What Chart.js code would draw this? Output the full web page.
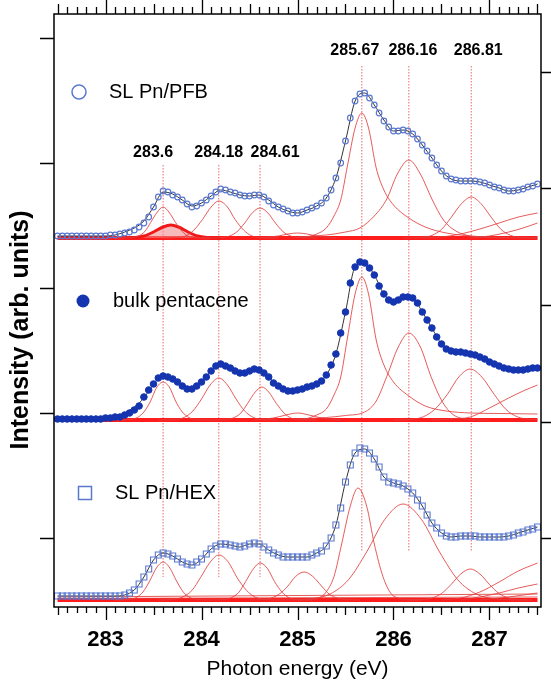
<!DOCTYPE html>
<html>
<head>
<meta charset="utf-8">
<script src="https://cdn.jsdelivr.net/npm/chart.js@4.4.1/dist/chart.umd.min.js"></script>
<style>
  body { margin: 0; background: #fff; }
  canvas { display: block; }
</style>
</head>
<body>
<canvas id="c" width="551" height="684"></canvas>
<script>
// photon energy grid of the measured points (eV)
const energy = [
  282.5,282.55,282.6,282.65,282.7,282.75,282.8,282.85,282.9,282.95,
  283,283.05,283.1,283.15,283.2,283.25,283.3,283.35,283.4,283.45,
  283.5,283.55,283.6,283.65,283.7,283.75,283.8,283.85,283.9,283.95,
  284,284.05,284.1,284.15,284.2,284.25,284.3,284.35,284.4,284.45,
  284.5,284.55,284.6,284.65,284.7,284.75,284.8,284.85,284.9,284.95,
  285,285.05,285.1,285.15,285.2,285.25,285.3,285.35,285.4,285.45,
  285.5,285.55,285.6,285.65,285.7,285.75,285.8,285.85,285.9,285.95,
  286,286.05,286.1,286.15,286.2,286.25,286.3,286.35,286.4,286.45,
  286.5,286.55,286.6,286.65,286.7,286.75,286.8,286.85,286.9,286.95,
  287,287.05,287.1,287.15,287.2,287.25,287.3,287.35,287.4,287.45,
  287.5
];

// measured intensities (arb. units, each relative to its own baseline)
const pfbData = [
  2,2,2,2,2,2,2,2,2,2,
  2,3,3,4,5,6,8,11,15,21,
  31,41,47,46,43,41,38,34,31,32,
  35,38,42,46,49,48,46,45,43,42,
  42,43,43,41,37,33,31,29,27,25,
  25,26,28,30,32,35,40,48,60,75,
  97,120,137,144,145,140,133,125,117,111,
  107,107,108,107,104,99,93,87,80,73,
  67,62,59,58,57,57,57,57,56,55,
  53,51,50,48,47,47,48,49,51,52,
  54
];
const bulkData = [
  1,1,1,1,1,1,1,1,1,1,
  2,2,3,3,5,7,10,14,23,30,
  36,42,44,43,41,38,34,31,31,34,
  38,43,49,54,56,54,52,49,47,47,
  49,51,50,47,43,37,34,31,29,29,
  30,31,33,34,36,39,45,55,66,87,
  108,137,153,158,157,152,145,134,126,120,
  118,120,123,123,122,117,108,100,92,83,
  76,71,69,68,68,67,66,65,63,61,
  58,56,54,52,51,50,50,50,51,52,
  52
];
const hexData = [
  4,4,4,4,4,4,4,4,4,4,
  4,4,4,4,5,7,10,16,23,31,
  40,45,47,46,44,41,38,36,35,38,
  41,46,51,54,56,56,55,54,53,54,
  56,57,56,53,50,47,45,43,43,43,
  43,43,43,45,47,49,54,62,75,92,
  118,135,147,152,151,147,141,133,123,118,
  117,116,114,111,107,100,94,85,77,72,
  67,64,63,63,64,64,64,64,63,63,
  63,63,63,63,64,65,67,68,70,71,
  73
];

// fitted envelope (black line)
const fitEnergy = [
  282.5,282.6,282.7,282.8,282.9,283,283.1,283.2,283.3,283.4,
  283.5,283.6,283.7,283.8,283.9,284,284.1,284.2,284.3,284.4,
  284.5,284.6,284.7,284.8,284.9,285,285.1,285.2,285.3,285.4,
  285.5,285.6,285.7,285.8,285.9,286,286.1,286.2,286.3,286.4,
  286.5,286.6,286.7,286.8,286.9,287,287.1,287.2,287.3,287.4,
  287.5
];
const pfbFit = [2,2,2,2,2,2,3,6,10,17, 31,46,44,38,32,35,42,48,46,43, 42,43,38,31,27,25,28,32,40,60, 97,137,145,133,118,107,108,104,93,80, 67,59,57,57,56,53,50,47,48,51, 54];
const bulkFit = [1,1,1,1,1,2,3,7,13,22, 36,44,41,34,31,38,49,56,52,47, 49,50,43,34,29,30,33,36,45,66, 108,153,157,145,126,118,123,122,108,92, 76,69,68,66,63,58,54,51,50,51, 52];
const hexFit = [4,4,4,4,4,4,4,5,10,23, 40,47,44,38,35,41,51,56,55,53, 56,56,50,45,43,43,43,47,54,75, 118,147,151,141,123,117,114,107,94,77, 67,63,64,64,63,63,63,64,67,70, 73];

// fitted components [eV, intensity]
const pfbComps = [
  [[283.1,0],[283.27,0.4],[283.34,1.9],[283.41,6.5],[283.47,15.5],[283.54,26],[283.6,31],[283.66,26],[283.73,15.5],[283.8,6.5],[283.86,1.9],[283.93,0.4],[284.1,0]],
  [[283.6,0],[283.75,0.5],[283.84,2.3],[283.92,7.8],[284.01,18.5],[284.1,31],[284.18,37],[284.27,31],[284.35,18.5],[284.44,7.8],[284.52,2.3],[284.61,0.5],[284.8,0]],
  [[284.0,0],[284.21,0.4],[284.29,1.9],[284.37,6.3],[284.45,15],[284.53,25.2],[284.61,30],[284.69,25.2],[284.77,15],[284.85,6.3],[284.93,1.9],[285.01,0.4],[285.2,0]],
  [[284.6,0],[284.8,2],[284.9,4],[285.0,5],[285.1,4],[285.2,2],[285.4,0]],
  [[285.05,0],[285.2,4],[285.3,10],[285.38,22],[285.45,38],[285.52,72],[285.6,110],[285.67,125],[285.74,110],[285.82,70],[285.9,48],[286.0,33],[286.16,20],[286.33,11],[286.55,5],[286.8,2],[287.1,0.5],[287.5,0]],
  [[285.0,1],[285.3,3],[285.5,6],[285.65,10],[285.8,22],[285.93,39],[286.04,64],[286.16,78],[286.28,64],[286.4,39],[286.52,18],[286.65,7],[286.8,2],[287.0,0.5],[287.2,0]],
  [[286.1,0],[286.3,0.5],[286.4,2.6],[286.5,8.6],[286.6,20.5],[286.71,34.5],[286.81,41],[286.91,34.5],[287.02,20.5],[287.12,8.6],[287.22,2.6],[287.32,0.5],[287.5,0]],
  [[286.3,0],[286.5,1],[286.7,4],[286.9,9],[287.1,15],[287.3,21],[287.5,25]],
  [[286.8,0],[287.0,2],[287.2,6],[287.35,10],[287.5,15]]
];
// shaded component of the PFB spectrum
const pfbShaded = [[283.2,0],[283.3,0.5],[283.4,2],[283.5,6],[283.6,11],[283.68,13],[283.76,11],[283.86,6],[283.96,2],[284.06,0.5],[284.2,0]];

const bulkComps = [
  [[283.1,0],[283.26,0.5],[283.33,2.4],[283.4,8],[283.47,19],[283.53,32],[283.6,38],[283.67,32],[283.73,19],[283.8,8],[283.87,2.4],[283.94,0.5],[284.1,0]],
  [[283.55,0],[283.73,0.5],[283.82,2.6],[283.91,9],[284.0,21],[284.09,35],[284.18,42],[284.27,35],[284.36,21],[284.45,9],[284.54,2.6],[284.63,0.5],[284.8,0]],
  [[284.1,0],[284.26,0.4],[284.33,2],[284.41,7],[284.48,16.5],[284.56,28],[284.63,33],[284.7,28],[284.78,16.5],[284.86,7],[284.93,2],[285.0,0.4],[285.2,0]],
  [[284.55,0],[284.75,2],[284.88,5],[285.0,7],[285.12,5],[285.25,2],[285.45,0]],
  [[285.05,0],[285.2,5],[285.3,11],[285.38,25],[285.45,43],[285.52,82],[285.6,126],[285.67,143],[285.74,126],[285.82,80],[285.9,55],[286.0,38],[286.16,24],[286.33,14],[286.55,9],[286.8,7],[287.1,6.5],[287.5,6]],
  [[285.0,1],[285.3,2.5],[285.5,4.5],[285.7,8],[285.82,19],[285.93,43.5],[286.05,73],[286.16,87],[286.28,73],[286.39,43.5],[286.51,18],[286.62,5.4],[286.74,1.1],[286.85,0.2],[287.0,0]],
  [[286.0,0],[286.19,0.7],[286.31,3.2],[286.43,10.7],[286.56,25.5],[286.68,43],[286.8,51],[286.92,43],[287.05,25.5],[287.17,10.7],[287.29,3.2],[287.41,0.7],[287.5,0.3]],
  [[286.4,0],[286.6,1],[286.8,3],[287.0,12],[287.2,22],[287.35,29],[287.5,35]]
];

const hexComps = [
  [[283.1,0],[283.25,0.5],[283.32,2.4],[283.39,8],[283.46,19],[283.53,32],[283.6,38],[283.67,32],[283.74,19],[283.81,8],[283.88,2.4],[283.95,0.5],[284.1,0]],
  [[283.55,0],[283.71,0.6],[283.8,2.8],[283.9,9.5],[283.99,22.5],[284.09,37.8],[284.18,45],[284.28,37.8],[284.37,22.5],[284.47,9.5],[284.56,2.8],[284.66,0.6],[284.8,0]],
  [[284.1,0],[284.24,0.5],[284.31,2.3],[284.39,7.8],[284.46,18.5],[284.54,31.1],[284.61,37],[284.69,31.1],[284.76,18.5],[284.84,7.8],[284.91,2.3],[284.99,0.5],[285.15,0]],
  [[284.5,0],[284.63,0.4],[284.72,1.75],[284.81,5.9],[284.9,14],[284.98,23.5],[285.07,28],[285.16,23.5],[285.25,14],[285.33,5.9],[285.42,1.75],[285.51,0.4],[285.65,0]],
  [[285.0,0],[285.12,0.2],[285.21,1.5],[285.29,7],[285.38,23.5],[285.46,56],[285.55,94],[285.63,112],[285.72,94],[285.8,56],[285.89,23.5],[285.97,7],[286.06,1.5],[286.14,0.2],[286.3,0]],
  [[284.8,0],[284.96,0.2],[285.15,1.3],[285.34,6],[285.53,20.2],[285.72,48],[285.91,80.7],[286.1,96],[286.29,80.7],[286.48,48],[286.67,20.2],[286.86,6],[287.05,1.3],[287.24,0.2],[287.4,0]],
  [[286.15,0],[286.3,0.4],[286.4,1.9],[286.5,6.5],[286.6,15.5],[286.7,26],[286.8,31],[286.9,26],[287.0,15.5],[287.1,6.5],[287.2,1.9],[287.3,0.4],[287.45,0]],
  [[286.5,0],[286.7,2],[286.9,8],[287.1,18],[287.3,29],[287.5,37]],
  [[286.7,0],[286.9,3],[287.1,7],[287.3,12],[287.5,16]],
  [[286.9,0],[287.2,3],[287.5,7]],
  [[282.5,3],[287.5,6]],
  [[282.5,1.5],[287.5,3]]
];

// vertical offsets of the stacked spectra
const pfbOffset = 369;
const bulkOffset = 187;
const hexOffset = 7;

// peak markers
const peakEnergies = [283.6, 284.18, 284.61, 285.67, 286.16, 286.81];
const peakLabels = ['283.6', '284.18', '284.61', '285.67', '286.16', '286.81'];

// axis ticks
const xTickLabels = [283, 284, 285, 286, 287];
const leftTicks = [569, 444, 319, 194, 69];
const rightTicks = [535, 419, 302, 185, 69];

// ---- layout / style ----
const FONT = '"Liberation Sans", Arial, sans-serif';
const compColor = 'rgba(226,62,62,0.85)';
const openBlue = '#5a78cf';
const darkBlue = '#1535b0';
const peakLineTop = [442, 442, 442, 541, 541, 541];
const peakLineBottom = [30, 30, 30, 55, 55, 55];
const labelShift = [-10, 0, 15, -7, 4, 7];   // px
const labelY = [454, 454, 454, 556, 556, 556];

function pts(xs, ys, off) {
  return xs.map((x, i) => ({x: x, y: ys[i] + off}));
}
function pairs(arr, off) {
  return arr.map(p => ({x: p[0], y: p[1] + off}));
}

let datasets = [];

// measured points (drawn on top)
datasets.push({data: pts(energy, pfbData, pfbOffset), showLine: false, pointStyle: 'circle',
  pointRadius: 2.8, pointBorderWidth: 1.2, pointBorderColor: openBlue, pointBackgroundColor: 'rgba(255,255,255,0)'});
datasets.push({data: pts(energy, bulkData, bulkOffset), showLine: false, pointStyle: 'circle',
  pointRadius: 3.3, pointBorderWidth: 1, pointBorderColor: darkBlue, pointBackgroundColor: darkBlue});
datasets.push({data: pts(energy, hexData, hexOffset), showLine: false, pointStyle: 'rect',
  pointRadius: 4.2, pointBorderWidth: 1.1, pointBorderColor: openBlue, pointBackgroundColor: 'rgba(255,255,255,0)'});

// fit envelopes
[[pfbFit, pfbOffset], [bulkFit, bulkOffset], [hexFit, hexOffset]].forEach(f => {
  datasets.push({data: pts(fitEnergy, f[0], f[1]), borderColor: '#333', borderWidth: 1,
    pointRadius: 0, cubicInterpolationMode: 'monotone'});
});

// components
[[pfbComps, pfbOffset], [bulkComps, bulkOffset], [hexComps, hexOffset]].forEach(g => {
  g[0].forEach(c => {
    datasets.push({data: pairs(c, g[1]), borderColor: compColor, borderWidth: 1,
      pointRadius: 0, cubicInterpolationMode: 'monotone'});
  });
});
datasets.push({data: pairs(pfbShaded, pfbOffset), borderColor: '#f01818', borderWidth: 3,
  backgroundColor: 'rgba(240,130,130,0.55)', fill: {value: pfbOffset},
  pointRadius: 0, cubicInterpolationMode: 'monotone'});

// thick baselines
[pfbOffset, bulkOffset, hexOffset].forEach(o => {
  datasets.push({data: [{x: 282.5, y: o}, {x: 287.5, y: o}], borderColor: '#ff1c1c',
    borderWidth: 4, pointRadius: 0});
});

// dotted peak markers
peakEnergies.forEach((e, i) => {
  datasets.push({data: [{x: e, y: peakLineTop[i]}, {x: e, y: peakLineBottom[i]}],
    borderColor: 'rgba(230,80,80,0.85)', borderWidth: 1, borderDash: [1.5, 1.5], pointRadius: 0});
});

// frame, ticks, annotations, legend and y title
const decor = {
  id: 'decor',
  afterDraw(chart) {
    const ctx = chart.ctx;
    const a = chart.chartArea;
    const xs = chart.scales.x, ys = chart.scales.y;
    ctx.save();
    ctx.strokeStyle = '#000';
    ctx.lineWidth = 1.5;
    ctx.strokeRect(a.left, a.top, a.right - a.left, a.bottom - a.top);

    ctx.lineWidth = 1.3;
    ctx.beginPath();
    for (let i = 0; i <= 50; i++) {
      const px = Math.round(xs.getPixelForValue(282.5 + i * 0.1)) + 0.5;
      let up = 7, down = 6;
      if (i % 10 === 5) { up = 14; down = 13; }
      else if (i % 10 === 0) { up = 10; down = 8; }
      ctx.moveTo(px, a.top); ctx.lineTo(px, a.top - up);
      ctx.moveTo(px, a.bottom); ctx.lineTo(px, a.bottom + down);
    }
    leftTicks.forEach(v => {
      const py = Math.round(ys.getPixelForValue(v)) + 0.5;
      ctx.moveTo(a.left, py); ctx.lineTo(a.left - 14, py);
    });
    rightTicks.forEach(v => {
      const py = Math.round(ys.getPixelForValue(v)) + 0.5;
      ctx.moveTo(a.right, py); ctx.lineTo(a.right + 12, py);
    });
    ctx.stroke();

    // peak energy labels
    ctx.fillStyle = '#000';
    ctx.font = 'bold 16px ' + FONT;
    ctx.textAlign = 'center';
    ctx.textBaseline = 'middle';
    peakLabels.forEach((t, i) => {
      ctx.fillText(t, xs.getPixelForValue(peakEnergies[i]) + labelShift[i], ys.getPixelForValue(labelY[i]));
    });

    // legend
    ctx.font = '20px ' + FONT;
    ctx.textAlign = 'left';
    ctx.lineWidth = 1.5;
    ctx.strokeStyle = openBlue;
    ctx.beginPath(); ctx.arc(79, 92, 7, 0, Math.PI * 2); ctx.stroke();
    ctx.fillText('SL Pn/PFB', 109, 92);
    ctx.fillStyle = darkBlue;
    ctx.beginPath(); ctx.arc(83, 301, 6.5, 0, Math.PI * 2); ctx.fill();
    ctx.fillStyle = '#000';
    ctx.fillText('bulk pentacene', 113, 301);
    ctx.strokeRect(78.5, 486.5, 13, 13);
    ctx.fillText('SL Pn/HEX', 115, 493);

    // y axis title
    ctx.translate(21, 330);
    ctx.rotate(-Math.PI / 2);
    ctx.textAlign = 'center';
    ctx.font = 'bold 25px ' + FONT;
    ctx.fillText('Intensity (arb. units)', 0, 0);
    ctx.restore();
  }
};

new Chart(document.getElementById('c'), {
  type: 'line',
  data: {datasets: datasets},
  options: {
    responsive: false,
    animation: false,
    devicePixelRatio: 1,
    layout: {padding: {left: 54, right: 10, top: 14, bottom: 0}},
    plugins: {legend: {display: false}, tooltip: {enabled: false}},
    scales: {
      x: {
        type: 'linear',
        min: 282.4635,
        max: 287.5365,
        grid: {display: false, drawTicks: false},
        border: {display: false},
        afterBuildTicks: s => { s.ticks = xTickLabels.map(v => ({value: v})); },
        afterFit: s => { s.height = 77; },
        ticks: {
          autoSkip: false, maxRotation: 0, padding: 20, color: '#000',
          font: {family: FONT, weight: 'bold', size: 22},
          callback: v => String(v)
        },
        title: {
          display: true, text: 'Photon energy (eV)', color: '#000',
          font: {family: FONT, size: 21}, padding: {top: 0, bottom: 2}
        }
      },
      y: {display: false, min: 0, max: 593}
    }
  },
  plugins: [decor]
});
</script>
</body>
</html>
